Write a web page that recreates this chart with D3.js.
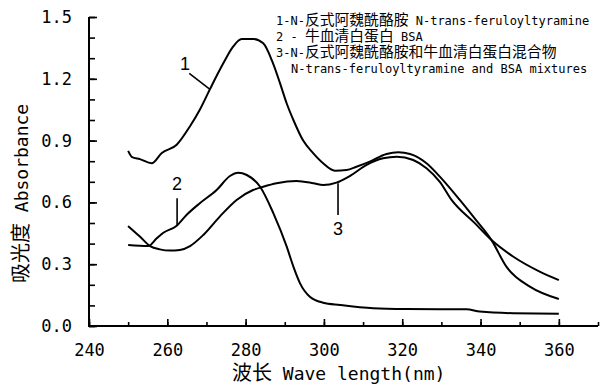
<!DOCTYPE html>
<html>
<head>
<meta charset="utf-8">
<script src="https://cdn.jsdelivr.net/npm/d3@7"></script>
<style>
  body { margin: 0; background: #fff; }
  svg { display: block; }
  .tick text { font-family: "DejaVu Sans Mono", monospace; font-size: 17px; fill: #000; }
  .curve { fill: none; stroke: #000; stroke-width: 2; stroke-linejoin: round; }
</style>
</head>
<body>
<svg width="600" height="385"></svg>
<script>
// wavelengths (nm) and absorbance
const wave1 = [250, 251, 253, 256, 258.6, 262.4, 265.8, 268.3, 270.9, 274.3, 276.8, 279, 282, 284.5, 287, 288.8, 290.5, 292.2, 294.7, 297.3, 299.8, 302.8, 305.8, 308.3, 311.7, 316, 319, 322, 326.2, 329.6, 334.7, 338.6, 342.8, 346.6, 352.6, 360];
const abs1  = [0.85, 0.82, 0.81, 0.79, 0.84, 0.88, 0.97, 1.05, 1.15, 1.275, 1.356, 1.393, 1.393, 1.372, 1.275, 1.178, 1.08, 1.0, 0.90, 0.838, 0.79, 0.754, 0.757, 0.773, 0.798, 0.835, 0.843, 0.835, 0.79, 0.725, 0.612, 0.52, 0.417, 0.288, 0.191, 0.131];

const wave2 = [250, 255.1, 257.3, 259, 262.4, 264.9, 268.3, 272.6, 276, 278.1, 280.3, 283.7, 287.1, 290.5, 292.2, 293.9, 296.4, 299.8, 304.1, 312.6, 321, 329.6, 336.4, 339.8, 348.4, 360];
const abs2  = [0.393, 0.388, 0.426, 0.453, 0.487, 0.539, 0.596, 0.66, 0.728, 0.744, 0.733, 0.676, 0.547, 0.385, 0.288, 0.207, 0.142, 0.113, 0.102, 0.086, 0.082, 0.081, 0.081, 0.07, 0.062, 0.06];

const wave3 = [250, 253, 255.6, 258.1, 260.7, 263.2, 265.8, 269.2, 273.4, 277.7, 281.9, 284.5, 287.9, 293, 297.3, 299.8, 303.2, 306.6, 310.9, 315.1, 318.6, 322.8, 326.2, 329.6, 332.6, 338.6, 342.8, 348.4, 355.1, 360];
const abs3  = [0.485, 0.434, 0.388, 0.372, 0.366, 0.369, 0.388, 0.442, 0.531, 0.612, 0.66, 0.676, 0.693, 0.704, 0.693, 0.684, 0.696, 0.728, 0.782, 0.814, 0.822, 0.806, 0.766, 0.70, 0.612, 0.498, 0.417, 0.336, 0.264, 0.223];

const legendLines = [
  "1-N-反式阿魏酰酪胺 N-trans-feruloyltyramine",
  "2 - 牛血清白蛋白 BSA",
  "3-N-反式阿魏酰酪胺和牛血清白蛋白混合物",
  "N-trans-feruloyltyramine and BSA mixtures"
];

// curve number labels: text point and leader line end (data units)
const labels = [
  {t: "1", x: 264.5, y: 1.27, lx1: 265.6, ly1: 1.226, lx2: 270.9, ly2: 1.149},
  {t: "2", x: 262.5, y: 0.69, lx1: 262.5, ly1: 0.62, lx2: 262.5, ly2: 0.49},
  {t: "3", x: 303.6, y: 0.47, lx1: 303.6, ly1: 0.693, lx2: 303.6, ly2: 0.539}
];

const svg = d3.select("svg");
const x = d3.scaleLinear().domain([240, 370]).range([89, 598]);
const y = d3.scaleLinear().domain([0, 1.5]).range([326, 17]);

const cjk = /[\u3000-\u9fff\uff00-\uffef]+|[^\u3000-\u9fff\uff00-\uffef]+/g;
function mixedText(sel, str, latinSize, cjkSize) {
  str.match(cjk).forEach(run => {
    const isCjk = /[\u3000-\u9fff]/.test(run);
    sel.append("tspan")
      .attr("font-family", isCjk ? "Noto Sans CJK SC" : "DejaVu Sans Mono")
      .attr("font-size", isCjk ? cjkSize : latinSize)
      .text(run);
  });
}

// minor ticks
svg.append("g")
  .attr("transform", "translate(0,326)")
  .call(d3.axisBottom(x).tickValues(d3.range(240, 371, 10)).tickSizeInner(-4).tickSizeOuter(0).tickFormat(""));
svg.append("g")
  .attr("transform", "translate(89,0)")
  .call(d3.axisLeft(y).tickValues(d3.range(0, 15.5, 1).map(d => d / 10)).tickSizeInner(-6).tickSizeOuter(0).tickFormat(""));

// major ticks with labels
svg.append("g")
  .attr("transform", "translate(0,326)")
  .call(d3.axisBottom(x).tickValues(d3.range(240, 361, 20)).tickSizeInner(-7).tickSizeOuter(0).tickPadding(18));
svg.append("g")
  .attr("transform", "translate(89,0)")
  .call(d3.axisLeft(y).tickValues([0, 0.3, 0.6, 0.9, 1.2, 1.5]).tickFormat(d3.format(".1f")).tickSizeInner(-8).tickSizeOuter(0).tickPadding(17));

svg.selectAll(".domain").remove();
svg.selectAll(".tick line").attr("stroke", "#000").attr("stroke-width", 1.6);

// axis lines
svg.append("line")
  .attr("x1", x.range()[0]).attr("x2", x.range()[1])
  .attr("y1", y.range()[0]).attr("y2", y.range()[0])
  .attr("stroke", "#000").attr("stroke-width", 2);
svg.append("line")
  .attr("x1", x.range()[0]).attr("x2", x.range()[0])
  .attr("y1", y.range()[0] + 1).attr("y2", y.range()[1])
  .attr("stroke", "#000").attr("stroke-width", 2);

// curves
const line = d3.line().x(d => x(d[0])).y(d => y(d[1])).curve(d3.curveMonotoneX);
[[wave1, abs1], [wave2, abs2], [wave3, abs3]].forEach(([w, a]) => {
  svg.append("path")
    .attr("class", "curve")
    .attr("d", line(d3.zip(w, a)));
});

// curve labels
labels.forEach(l => {
  svg.append("line")
    .attr("x1", x(l.lx1)).attr("y1", y(l.ly1))
    .attr("x2", x(l.lx2)).attr("y2", y(l.ly2))
    .attr("stroke", "#000").attr("stroke-width", 1.6);
  svg.append("text")
    .attr("x", x(l.x)).attr("y", y(l.y))
    .attr("text-anchor", "middle").attr("dominant-baseline", "central")
    .attr("font-family", "Liberation Sans, Arial, sans-serif").attr("font-size", 18)
    .text(l.t);
});

// legend
legendLines.forEach((s, i) => {
  const t = svg.append("text")
    .attr("x", i === 3 ? 291 : 276)
    .attr("y", 25 + i * 16);
  mixedText(t, s, 12, 14.8);
});

// axis titles
mixedText(svg.append("text").attr("x", 232).attr("y", 380), "波长 Wave length(nm)", 18, 20);
mixedText(svg.append("text").attr("transform", "translate(28,283) rotate(-90)"), "吸光度 Absorbance", 18, 20);
</script>
</body>
</html>
